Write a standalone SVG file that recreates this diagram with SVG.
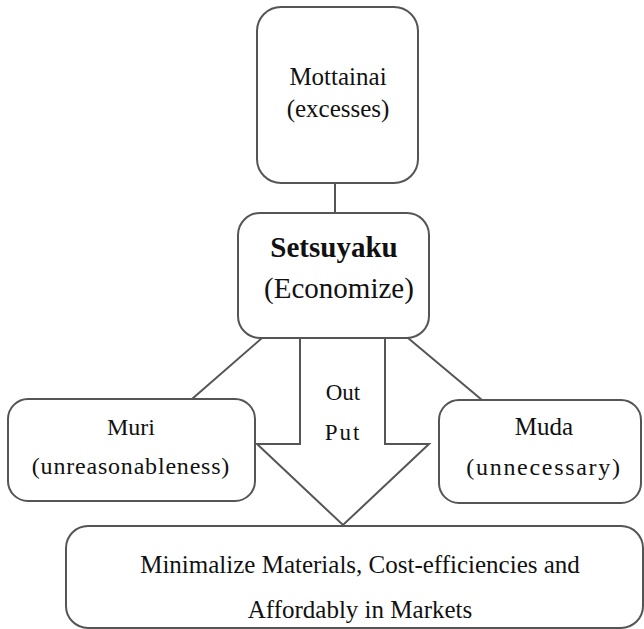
<svg xmlns="http://www.w3.org/2000/svg" width="644" height="629" viewBox="0 0 644 629">
<style>
.box{fill:#fff;stroke:#555;stroke-width:2}
.ln{fill:none;stroke:#555;stroke-width:2}
text{font-family:"Liberation Serif","Times New Roman",serif;fill:#111;text-anchor:middle}
.t{font-size:25px}
</style>
<rect width="644" height="629" fill="#fff"/>
<g id="connectors">
<line class="ln" x1="335" y1="183" x2="335" y2="213"/>
<line class="ln" x1="262" y1="338" x2="192" y2="399"/>
<line class="ln" x1="408" y1="338" x2="482" y2="400"/>
</g>
<g id="mottainai">
<rect class="box" x="257" y="7" width="161" height="176" rx="24"/>
<text class="t" x="338" y="85">Mottainai</text>
<text class="t" x="338" y="117">(excesses)</text>
</g>
<g id="setsuyaku">
<rect class="box" x="238" y="213" width="191" height="125" rx="22"/>
<text x="334" y="257" font-size="29" font-weight="bold">Setsuyaku</text>
<text x="339" y="298" font-size="29">(Economize)</text>
</g>
<g id="muri">
<rect class="box" x="8" y="399" width="247" height="102" rx="20"/>
<text x="131" y="435" font-size="24">Muri</text>
<text x="131" y="474" font-size="24" letter-spacing="0.8">(unreasonableness)</text>
</g>
<g id="muda">
<rect class="box" x="439" y="400" width="202" height="103" rx="20"/>
<text x="544" y="435" font-size="25">Muda</text>
<text x="544" y="475" font-size="24" letter-spacing="1.7">(unnecessary)</text>
</g>
<g id="output">
<rect class="box" x="66" y="526" width="577" height="102" rx="22"/>
<text class="t" x="360" y="573">Minimalize Materials, Cost-efficiencies and</text>
<text class="t" x="360" y="618">Affordably in Markets</text>
</g>
<g id="outarrow">
<polygon class="box" points="300,338 385,338 385,444 429,444 343,525 257,444 300,444"/>
<text x="343" y="400" font-size="23">Out</text>
<text x="343" y="440" font-size="23" letter-spacing="2">Put</text>
</g>
</svg>
